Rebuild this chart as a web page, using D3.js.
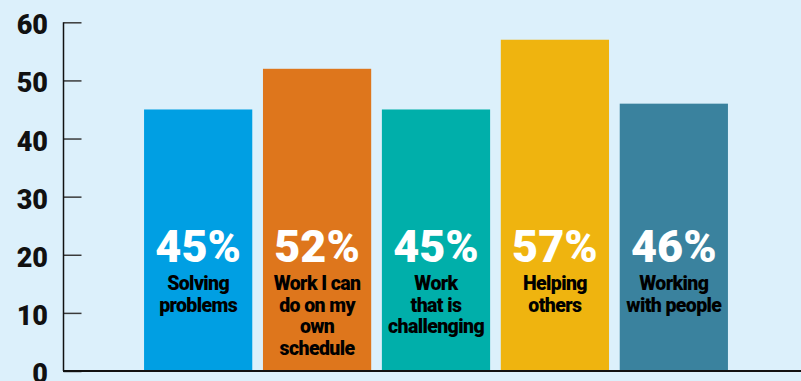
<!DOCTYPE html>
<html><head><meta charset="utf-8">
<script src="https://cdn.jsdelivr.net/npm/d3@7"></script>
<style>
html,body{margin:0;padding:0;background:#dcf0fb;}
svg{display:block;}
text{font-family:Roboto,"Liberation Sans Narrow",sans-serif;font-weight:900;}
</style></head>
<body>
<script>
const categories = ["Solving problems","Work I can do on my own schedule","Work that is challenging","Helping others","Working with people"];
const values = [45, 52, 45, 57, 46];
const labelLines = [["Solving","problems"],["Work I can","do on my","own","schedule"],["Work","that is","challenging"],["Helping","others"],["Working","with people"]];
const colors = ["#009fe3","#de761c","#00afaa","#efb40f","#3a829e"];
const tickValues = [0,10,20,30,40,50,60];

const W = 801, H = 381;
const svg = d3.select("body").append("svg").attr("width", W).attr("height", H);
svg.append("rect").attr("width", W).attr("height", H).attr("fill", "#dcf0fb");

const y = d3.scaleLinear().domain([0, 60]).range([371, 22.3]);
const x = d3.scaleBand().domain(categories).range([138.7, 733.3]).paddingInner(0.09).paddingOuter(0.045);

// bars
svg.selectAll("rect.bar").data(categories).enter().append("rect")
  .attr("class","bar")
  .attr("x", d => x(d)).attr("width", x.bandwidth())
  .attr("y", (d,i) => y(values[i])).attr("height", (d,i) => y(0) - y(values[i]))
  .attr("fill", (d,i) => colors[i]);

// y axis
const axis = svg.append("g").attr("transform", "translate(63.5,0)")
  .call(d3.axisRight(y).tickValues(tickValues).tickSize(18).tickFormat(""));
axis.select(".domain").remove();
axis.selectAll(".tick line").attr("stroke", "#3a3a3a").attr("stroke-width", 1.5);
svg.append("line").attr("x1", 63.5).attr("x2", 63.5).attr("y1", 22.3).attr("y2", 371).attr("stroke", "#111").attr("stroke-width", 1.5);
svg.append("line").attr("x1", 63).attr("x2", W).attr("y1", 371).attr("y2", 371).attr("stroke", "#111").attr("stroke-width", 1.8);

svg.selectAll("text.tick").data(tickValues).enter().append("text")
  .attr("class","tick")
  .attr("x", 48).attr("y", d => y(d) + 12)
  .attr("text-anchor", "end")
  .attr("font-size", 27).attr("fill", "#111")
  .text(d => d);

// percentage labels
svg.selectAll("text.pct").data(categories).enter().append("text")
  .attr("class","pct")
  .attr("x", d => x(d) + x.bandwidth()/2).attr("y", 262)
  .attr("text-anchor", "middle")
  .attr("font-size", 45).attr("fill", "#fff")
  .text((d,i) => values[i] + "%");

// category labels
categories.forEach((c, i) => {
  const t = svg.append("text")
    .attr("x", x(c) + x.bandwidth()/2).attr("y", 290)
    .attr("text-anchor", "middle").attr("font-size", 19.5).attr("fill", "#000")
    .attr("letter-spacing", -0.6);
  labelLines[i].forEach((ln, j) => {
    t.append("tspan").attr("x", x(c) + x.bandwidth()/2).attr("y", 290 + j*21.5).text(ln);
  });
});
</script>
</body></html>
